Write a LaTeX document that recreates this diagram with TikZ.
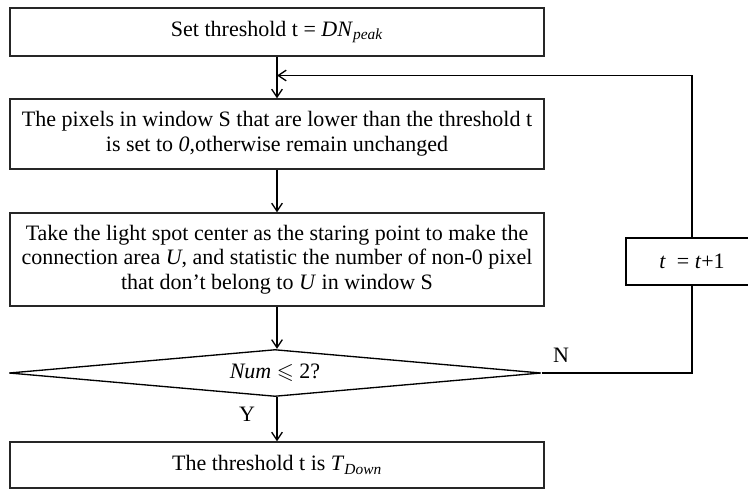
\documentclass[tikz,border=0pt]{standalone}
\usepackage{fontspec}
\usepackage{amssymb}
\setmainfont{Liberation Serif}
\usetikzlibrary{shapes.geometric, arrows.meta, positioning}

\begin{document}
\begin{tikzpicture}[
    x=0.75pt, y=-0.75pt,
    % Process style
    processbox/.style={
        rectangle,
        draw=black!85,
        line width=1pt,
        minimum width=400.5pt,
        inner sep=0pt,
        font=\fontsize{16.5}{18.5}\selectfont,
        align=center
    },
    % Decision style
    decisionbox/.style={
        diamond,
        aspect=11.32,
        draw=black,
        line width=1pt,
        minimum width=399pt,
        minimum height=35.25pt,
        inner sep=0pt,
        font=\fontsize{16.5}{18.5}\selectfont
    },
    % Update style
    updatebox/.style={
        rectangle,
        draw=black,
        line width=1pt,
        minimum width=99pt,
        minimum height=35.25pt,
        font=\fontsize{16.5}{18.5}\selectfont
    },
    arrow/.style={
        -{Straight Barb[length=6pt, width=8pt]},
        line width=1pt,
        black
    },
    branchlabel/.style={
        font=\fontsize{16.5}{18.5}\selectfont,
        inner sep=0pt
    }
]
\useasboundingbox (0,0) rectangle (748,489);
\clip (0,0) rectangle (748,489);

% === Main column ===
\node[processbox, minimum height=36pt] (init) at (277, 32)
    {Set threshold t = \textit{DN}\textsubscript{\textit{peak}}};
\node[processbox, minimum height=52.5pt] (cut) at (277, 134)
    {The pixels in window S that are lower than the threshold t\\
     is set to \textit{0},otherwise remain unchanged};
\node[processbox, minimum height=69.75pt] (count) at (277, 259.5)
    {Take the light spot center as the staring point to make the\\
     connection area \textit{U}, and statistic the number of non-0 pixel\\
     that don't belong to \textit{U} in window S};
\node[decisionbox] (check) at (275, 373) {\textit{Num} $\leqslant$ 2?};
\node[processbox, minimum height=34.5pt] (result) at (277, 465)
    {The threshold t is \textit{T}\textsubscript{\textit{Down}}};

% === Feedback branch ===
\node[updatebox] (update) at (692, 261.5) {\textit{t}\ \ = \textit{t}+1};
\coordinate (join) at (277, 75.5);

% === Connectors ===
\draw[arrow] (init) -- (cut);
\draw[arrow] (cut) -- (count);
\draw[arrow] (count) -- (check.north -| count);
\draw[arrow] (check.south -| result) -- (result);
\draw[line width=1pt] (check.east) -| (update.south);
\draw[arrow] (update.north) |- (join);

% === Branch labels ===
\node[branchlabel] (yes) at (247, 414) {Y};
\node[branchlabel] (no) at (561, 355) {N};

\end{tikzpicture}
\end{document}
